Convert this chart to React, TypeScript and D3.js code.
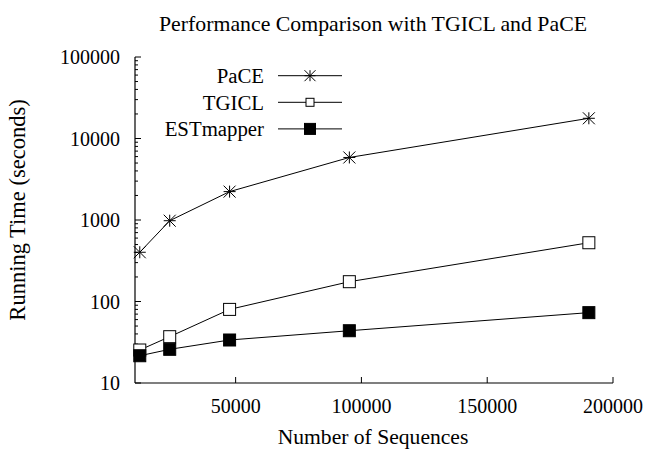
import React from "react";
import * as d3 from "d3";

const sequences = [11900, 23800, 47600, 95200, 190400];
const paceTimes = [402, 980, 2230, 5850, 17700];
const tgiclTimes = [25.4, 37, 80, 175, 526];
const estTimes = [21.6, 25.9, 33.7, 43.8, 73];
const seriesNames = ["PaCE", "TGICL", "ESTmapper"];
const xTicks = [50000, 100000, 150000, 200000];
const yTicks = [10, 100, 1000, 10000, 100000];

const W = 645, H = 455;
const L = 135, R = 613, T = 57, B = 383;
const FONT = "'Liberation Serif', 'Times New Roman', serif";

function Marker({ kind, x, y, s }: { kind: string; x: number; y: number; s: number }) {
  const h = s / 2;
  if (kind === "PaCE") {
    return (
      <g stroke="#000" strokeWidth={1}>
        <line x1={x - h} y1={y} x2={x + h} y2={y} />
        <line x1={x} y1={y - h} x2={x} y2={y + h} />
        <line x1={x - h} y1={y - h} x2={x + h} y2={y + h} />
        <line x1={x - h} y1={y + h} x2={x + h} y2={y - h} />
      </g>
    );
  }
  if (kind === "TGICL") {
    return <rect x={x - h} y={y - h} width={s} height={s} fill="#fff" stroke="#000" strokeWidth={1} />;
  }
  return <rect x={x - h} y={y - h} width={s} height={s} fill="#000" stroke="#000" strokeWidth={1} />;
}

export default function App() {
  const x = d3.scaleLinear().domain([10000, 200000]).range([L, R]);
  const y = d3.scaleLog().domain([10, 100000]).range([B, T]);
  const line = d3.line<[number, number]>().x((d) => x(d[0])).y((d) => y(d[1]));
  const series = [
    { name: seriesNames[0], values: paceTimes },
    { name: seriesNames[1], values: tgiclTimes },
    { name: seriesNames[2], values: estTimes },
  ];
  const minor: number[] = [];
  for (let e = 1; e < 5; e++) for (let m = 2; m <= 9; m++) minor.push(m * Math.pow(10, e));

  return (
    <svg width={W} height={H} style={{ position: "absolute", left: 0, top: 0, background: "#fff" }} fontFamily={FONT}>
      <rect width={W} height={H} fill="#fff" />
      <text x={373} y={31} textAnchor="middle" fontSize={21.8}>Performance Comparison with TGICL and PaCE</text>
      {/* axes */}
      <line x1={L} y1={T} x2={L} y2={B} stroke="#000" strokeWidth={1.2} />
      <line x1={L} y1={B} x2={R} y2={B} stroke="#000" strokeWidth={1.2} />
      {yTicks.map((t) => (
        <g key={"y" + t}>
          <line x1={L} x2={L + 6} y1={y(t)} y2={y(t)} stroke="#000" strokeWidth={1} />
          <text x={120} y={y(t)} dy="0.35em" textAnchor="end" fontSize={20}>{t}</text>
        </g>
      ))}
      {minor.map((t) => (
        <line key={"m" + t} x1={L} x2={L + 3} y1={y(t)} y2={y(t)} stroke="#000" strokeWidth={1} />
      ))}
      {xTicks.map((t) => (
        <g key={"x" + t}>
          <line x1={x(t)} x2={x(t)} y1={B} y2={B - 6} stroke="#000" strokeWidth={1} />
          <text x={x(t)} y={413} textAnchor="middle" fontSize={20}>{t}</text>
        </g>
      ))}
      <text x={373} y={444} textAnchor="middle" fontSize={21.6}>Number of Sequences</text>
      <text transform={`translate(25,210) rotate(-90)`} textAnchor="middle" fontSize={22.5}>Running Time (seconds)</text>
      {/* series */}
      {series.map((s) => {
        const pts = sequences.map((v, i) => [v, s.values[i]] as [number, number]);
        return (
          <g key={s.name}>
            <path d={line(pts) || ""} fill="none" stroke="#000" strokeWidth={1} />
            {pts.map((p, i) => (
              <Marker key={i} kind={s.name} x={x(p[0])} y={y(p[1])} s={12} />
            ))}
          </g>
        );
      })}
      {/* legend */}
      {series.map((s, i) => {
        const ly = 75.7 + i * 26.6;
        return (
          <g key={"lg" + s.name}>
            <text x={264} y={ly} dy="0.35em" textAnchor="end" fontSize={20.8}>{s.name}</text>
            <line x1={278} x2={342} y1={ly} y2={ly} stroke="#000" strokeWidth={1} />
            <Marker kind={s.name} x={310} y={ly} s={s.name === "TGICL" ? 8 : 11} />
          </g>
        );
      })}
    </svg>
  );
}
